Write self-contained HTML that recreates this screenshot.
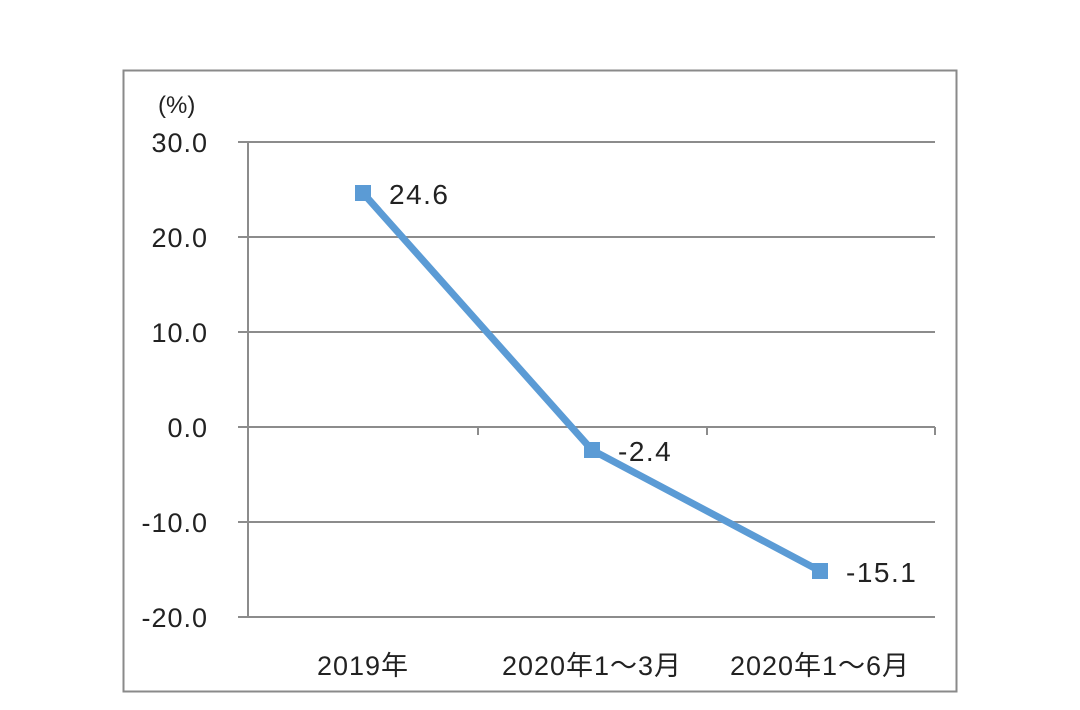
<!DOCTYPE html>
<html><head><meta charset="utf-8"><style>
body{margin:0;background:#fff;}
svg text{font-family:"Liberation Sans","Noto Sans CJK SC",sans-serif;fill:#222;}
</style></head><body>
<svg width="1080" height="705" viewBox="0 0 1080 705" xmlns="http://www.w3.org/2000/svg">
<rect x="0" y="0" width="1080" height="705" fill="#fff"/>
<rect x="123.5" y="70.5" width="833" height="621" fill="none" stroke="#8a8a8a" stroke-width="2"/>
<g stroke="#8c8c8c" stroke-width="2">
<line x1="238" y1="142" x2="935" y2="142"/>
<line x1="238" y1="237" x2="935" y2="237"/>
<line x1="238" y1="332" x2="935" y2="332"/>
<line x1="238" y1="427" x2="935" y2="427"/>
<line x1="238" y1="522" x2="935" y2="522"/>
<line x1="238" y1="617" x2="935" y2="617"/>
<line x1="248" y1="142" x2="248" y2="617"/>
<line x1="478" y1="427" x2="478" y2="435"/>
<line x1="707" y1="427" x2="707" y2="435"/>
<line x1="935" y1="427" x2="935" y2="435"/>
</g>
<g font-size="27" text-anchor="end" letter-spacing="1">
<text x="208" y="152">30.0</text>
<text x="208" y="247">20.0</text>
<text x="208" y="342">10.0</text>
<text x="208" y="437">0.0</text>
<text x="208" y="532">-10.0</text>
<text x="208" y="627">-20.0</text>
</g>
<text x="158" y="113" font-size="24">(%)</text>
<polyline points="363,193 592,450 820,571" fill="none" stroke="#5b9bd5" stroke-width="7" stroke-linejoin="round"/>
<g fill="#5b9bd5">
<rect x="355" y="185" width="16" height="16"/>
<rect x="584" y="442" width="16" height="16"/>
<rect x="812" y="563" width="16" height="16"/>
</g>
<g font-size="28" letter-spacing="1.5">
<text x="389" y="204">24.6</text>
<text x="618" y="461">-2.4</text>
<text x="846" y="582">-15.1</text>
</g>
<g font-size="27" text-anchor="middle" letter-spacing="1">
<text x="363" y="675">2019年</text>
<text x="592" y="675">2020年1～3月</text>
<text x="820" y="675">2020年1～6月</text>
</g>
</svg>
</body></html>
